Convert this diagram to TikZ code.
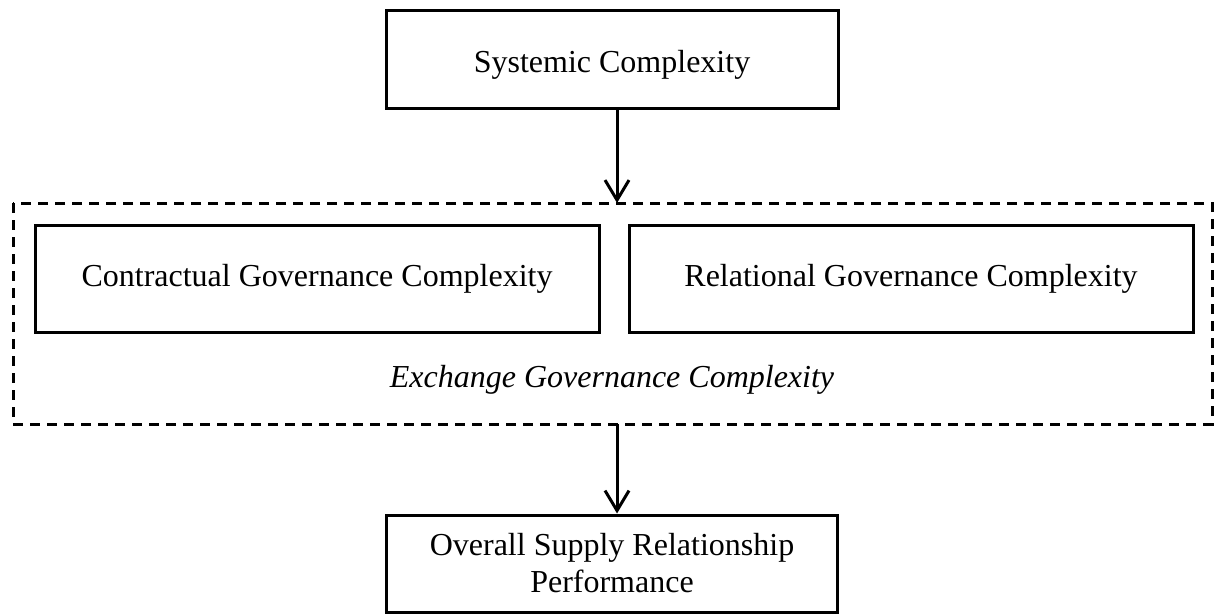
\documentclass[tikz,border=0pt]{standalone}
\usepackage{fontspec}
\setmainfont{Liberation Serif}
\usetikzlibrary{arrows.meta}
\begin{document}
\begin{tikzpicture}[x=1pt,y=-1pt,
  box/.style={draw=black,line width=3pt,fill=white,inner sep=0pt,font=\fontsize{32}{37}\selectfont,align=center},
  grp/.style={draw=black,line width=3pt,dash pattern=on 10pt off 7pt},
  arr/.style={line width=3pt,-{Straight Barb[length=20pt,width=24pt,line width=3pt]}}]
\useasboundingbox (0,0) rectangle (1214,613);
\draw[grp] (13,203) rectangle (1212,424);
\coordinate (gtop) at (617,203);
\coordinate (gbot) at (617,424);
\node[box,minimum width=452pt,minimum height=98pt,text height=34pt,text depth=7pt] (sys) at (612,59) {Systemic Complexity};
\node[box,minimum width=564pt,minimum height=107pt] (con) at (317,279) {Contractual Governance Complexity};
\node[box,minimum width=564pt,minimum height=107pt] (rel) at (911,279) {Relational Governance Complexity};
\node[font=\fontsize{32}{37}\selectfont\itshape] (egc) at (612,380) {Exchange Governance Complexity};
\node[box,minimum width=451pt,minimum height=97pt] (osr) at (612,563.5) {Overall Supply Relationship\\Performance};
\draw[arr] (sys.south -| gtop) -- (gtop);
\draw[arr] (gbot) -- (osr.north -| gbot);
\end{tikzpicture}
\end{document}
